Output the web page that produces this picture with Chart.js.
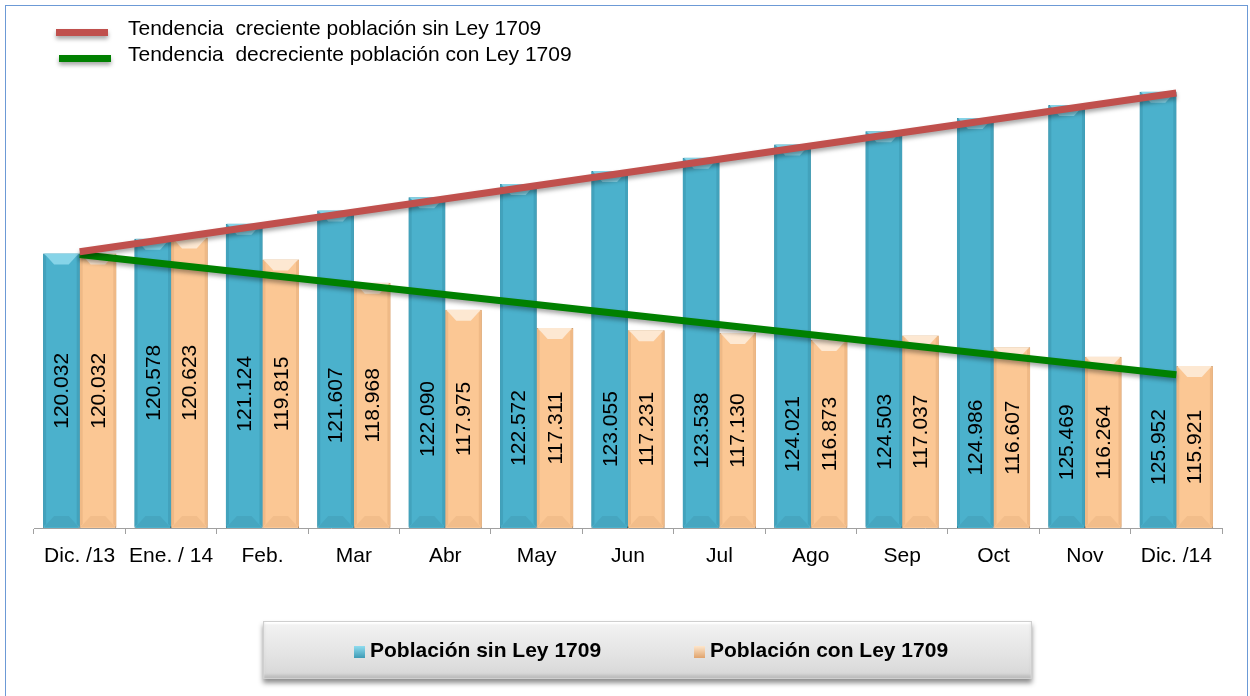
<!DOCTYPE html>
<html>
<head>
<meta charset="utf-8">
<script src="https://cdn.jsdelivr.net/npm/chart.js@4"></script>
<style>
    html, body { margin: 0; padding: 0; background: #fff; }
    body { width: 1250px; height: 696px; overflow: hidden; position: relative;
           font-family: "Liberation Sans", Arial, sans-serif; }
    #frame { position: absolute; left: 5px; top: 5px; width: 1241px; height: 720px;
             border: 1px solid #6c9ad6; }
    #wrap { position: absolute; left: 0; top: 0; width: 1250px; height: 696px; }
    .trend { position: absolute; left: 56px; font-size: 21px; color: #000; }
    .trend i { position: absolute; left: 0; width: 52px; height: 7px;
               box-shadow: 0 3px 4px rgba(0,0,0,0.35); }
    .trend span { position: absolute; left: 72px; top: -13px; white-space: pre; line-height: 23px; }
    #legend { position: absolute; left: 263px; top: 621px; width: 767px; height: 56px;
              background: linear-gradient(#f3f3f3, #e3e3e3 60%, #d6d6d6);
              border: 1px solid #cfcfcf;
              box-shadow: 0 4px 5px rgba(0,0,0,0.45), inset 0 -3px 3px rgba(0,0,0,0.12), inset 0 2px 2px #fff; }
    #legend div { position: absolute; top: 16px; font-size: 21px; font-weight: bold; white-space: nowrap; }
    #legend b { display: inline-block; width: 11px; height: 12px; margin-right: 5px; vertical-align: -1px; }
</style>
</head>
<body>
<div id="frame"></div>
<div id="wrap"><canvas id="chart"></canvas></div>

<div class="trend" style="top:29px"><i style="background:#c0504d"></i><span>Tendencia  creciente población sin Ley 1709</span></div>
<div class="trend" style="top:55px"><i style="background:#008000;left:3px"></i><span>Tendencia  decreciente población con Ley 1709</span></div>

<div id="legend">
    <div style="left:90px"><b style="background:linear-gradient(#8fdcef,#3e9bb5)"></b>Población sin Ley 1709</div>
    <div style="left:430px"><b style="background:linear-gradient(#fde6cc,#e0a36c)"></b>Población con Ley 1709</div>
</div>

<script>
// months, Dec 2013 .. Dec 2014
var meses = ['Dic. /13', 'Ene. / 14', 'Feb.', 'Mar', 'Abr', 'May', 'Jun', 'Jul', 'Ago', 'Sep', 'Oct', 'Nov', 'Dic. /14'];

// population (thousands) without / with Ley 1709
var sinLey = [120.032, 120.578, 121.124, 121.607, 122.090, 122.572, 123.055, 123.538, 124.021, 124.503, 124.986, 125.469, 125.952];
var conLey = [120.032, 120.623, 119.815, 118.968, 117.975, 117.311, 117.231, 117.130, 116.873, 117.037, 116.607, 116.264, 115.921];

// trend lines: only the two end points are drawn
var tendSin = [120.1, null, null, null, null, null, null, null, null, null, null, null, 125.9];
var tendCon = [120.0, null, null, null, null, null, null, null, null, null, null, null, 115.6];

var FONT = '"Liberation Sans", Arial, sans-serif';

// bevel colours per bar dataset index
var shades = {
    2: { edge: '#42a2bc', top: '#86d4e8', bottom: '#46a6c0' },
    3: { edge: '#efb986', top: '#fde8d2', bottom: '#f2bd8a' }
};

// bar shadow + line shadow, then an Office-like bevel on each bar
var effects = {
    id: 'effects',
    beforeDatasetDraw: function (chart, args) {
        var ctx = chart.ctx;
        ctx.save();
        if (args.meta.type === 'line') {
            ctx.shadowColor = 'rgba(0,0,0,0.35)';
            ctx.shadowBlur = 4;
            ctx.shadowOffsetY = 3;
        } else {
            ctx.shadowColor = 'rgba(0,0,0,0.25)';
            ctx.shadowBlur = 3;
            ctx.shadowOffsetX = 1;
            ctx.shadowOffsetY = 1;
        }
    },
    afterDatasetDraw: function (chart, args) {
        var ctx = chart.ctx;
        ctx.restore();
        if (args.meta.type !== 'bar') return;
        var s = shades[args.index];
        var orange = chart.getDatasetMeta(3).data;
        var bottom = chart.chartArea.bottom;
        ctx.save();
        args.meta.data.forEach(function (bar, i) {
            var x0 = bar.x - bar.width / 2, x1 = bar.x + bar.width / 2;
            var t = bar.y, b = Math.min(bar.base, bottom) - 1, e = 3, h = 11;
            ctx.fillStyle = s.edge;
            ctx.beginPath();
            ctx.moveTo(x0, t); ctx.lineTo(x0 + e, t + e); ctx.lineTo(x0 + e, b - e); ctx.lineTo(x0, b);
            ctx.fill();
            ctx.beginPath();
            ctx.moveTo(x1, t); ctx.lineTo(x1 - e, t + e); ctx.lineTo(x1 - e, b - e); ctx.lineTo(x1, b);
            ctx.fill();
            ctx.fillStyle = s.top;
            ctx.beginPath();
            ctx.moveTo(x0 + 1, t); ctx.lineTo(x1 - 1, t); ctx.lineTo(x1 - h, t + h); ctx.lineTo(x0 + h, t + h);
            ctx.fill();
            ctx.fillStyle = s.bottom;
            ctx.beginPath();
            ctx.moveTo(x0 + 1, b); ctx.lineTo(x1 - 1, b); ctx.lineTo(x1 - h, b - h); ctx.lineTo(x0 + h, b - h);
            ctx.fill();

            // value label, rotated, at the middle of the orange bar of the month
            var o = orange[i];
            var yMid = (o.y + Math.min(o.base, bottom)) / 2;
            var v = chart.data.datasets[args.index].data[i];
            ctx.save();
            ctx.translate(bar.x, yMid);
            ctx.rotate(-Math.PI / 2);
            ctx.fillStyle = '#000';
            ctx.font = '21px ' + FONT;
            ctx.textAlign = 'center';
            ctx.textBaseline = 'middle';
            ctx.fillText(v.toFixed(3), 0, 1);
            ctx.restore();
        });
        ctx.restore();
    }
};

new Chart(document.getElementById('chart'), {
    data: {
        labels: meses,
        datasets: [
            { type: 'line', label: 'Tendencia creciente población sin Ley 1709', data: tendSin,
              borderColor: '#c0504d', borderWidth: 7, pointRadius: 0, spanGaps: true, order: 0 },
            { type: 'line', label: 'Tendencia decreciente población con Ley 1709', data: tendCon,
              borderColor: '#008000', borderWidth: 7, pointRadius: 0, spanGaps: true, order: 0 },
            { type: 'bar', label: 'Población sin Ley 1709', data: sinLey,
              backgroundColor: '#4bb1cc', borderColor: '#2f7f95', borderWidth: 1,
              categoryPercentage: 0.8, barPercentage: 1, order: 1 },
            { type: 'bar', label: 'Población con Ley 1709', data: conLey,
              backgroundColor: '#fbc794', borderColor: '#c89a6c', borderWidth: 1,
              categoryPercentage: 0.8, barPercentage: 1, order: 1 }
        ]
    },
    options: {
        responsive: true,
        maintainAspectRatio: false,
        animation: false,
        events: [],
        layout: { padding: { left: 34, right: 28, top: 63, bottom: 0 } },
        plugins: { legend: { display: false }, tooltip: { enabled: false } },
        scales: {
            x: {
                grid: { drawOnChartArea: false, tickLength: 6, color: '#a0a0a0', offset: true },
                border: { display: true, color: '#a0a0a0' },
                ticks: { color: '#000', font: { size: 21, family: FONT }, padding: 10, maxRotation: 0, autoSkip: false },
                afterFit: function (s) { s.height = 168; }
            },
            y: { display: false, min: 110, max: 127 }
        }
    },
    plugins: [effects]
});
</script>
</body>
</html>
